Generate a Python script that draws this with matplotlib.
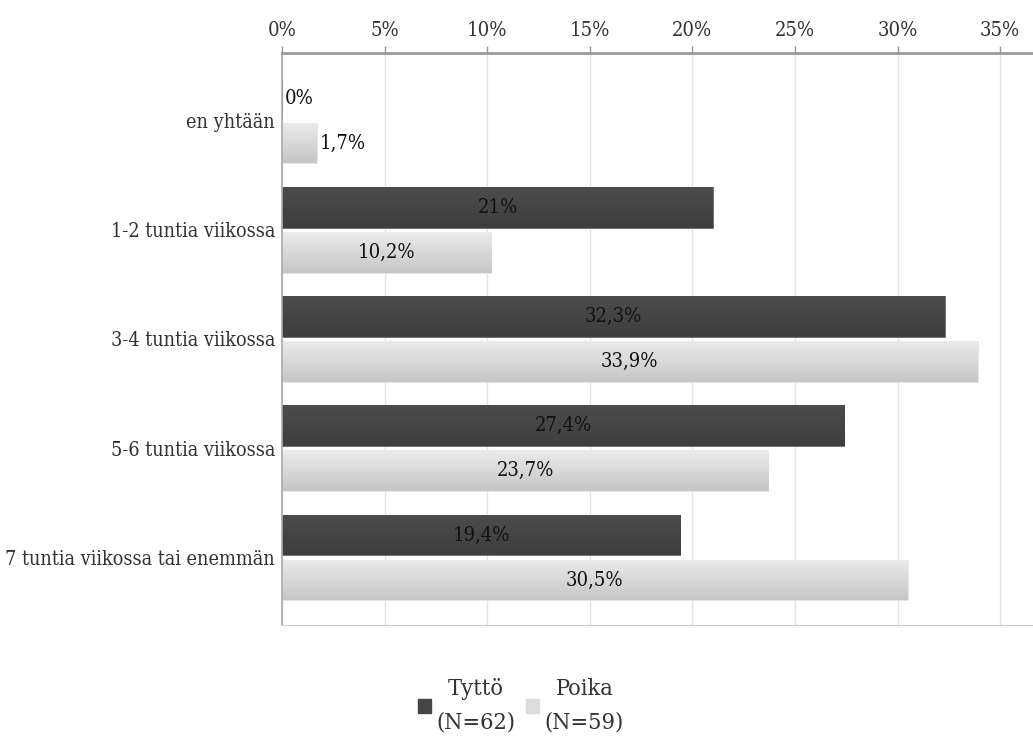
import matplotlib
matplotlib.use("Agg")
import matplotlib.pyplot as plt
import numpy as np
from matplotlib.patches import Patch

categories = ["en yhtään", "1-2 tuntia viikossa", "3-4 tuntia viikossa",
              "5-6 tuntia viikossa", "7 tuntia viikossa tai enemmän"]
tytto = [0, 21, 32.3, 27.4, 19.4]
poika = [1.7, 10.2, 33.9, 23.7, 30.5]
series_labels = ["Tyttö\n(N=62)", "Poika\n(N=59)"]
xticks = [0, 5, 10, 15, 20, 25, 30, 35]

plt.rcParams['font.family'] = ['DejaVu Serif', 'Liberation Serif']
plt.rcParams['font.stretch'] = 'condensed'

fig = plt.figure(figsize=(10.33, 7.4), dpi=100)
ax = fig.add_axes([282/1033, 1-625/740, 1-282/1033, (625-53)/740])

y = np.arange(len(categories))
h = 0.375
off = 0.206

def grad_bars(bars, c_top, c_bot):
    cmap = matplotlib.colors.LinearSegmentedColormap.from_list("g", [c_top, c_bot])
    grad = np.linspace(0, 1, 64).reshape(-1, 1)
    for b in bars:
        x0, y0 = b.get_x(), b.get_y()
        w, hh = b.get_width(), b.get_height()
        if w <= 0:
            continue
        b.set_facecolor("none")
        im = ax.imshow(grad, cmap=cmap, aspect="auto",
                       extent=[x0, x0 + w, y0 + hh, y0], zorder=2,
                       interpolation="bilinear")
        im.set_clip_path(b)

b1 = ax.barh(y - off, tytto, height=h, color="#454545", edgecolor="#5a5a5a",
             linewidth=0.6, zorder=2)
b2 = ax.barh(y + off, poika, height=h, color="#d8d8d8", edgecolor="#e0e0e0",
             linewidth=0.6, zorder=2)
grad_bars(b1, "#4c4c4c", "#3e3e3e")
grad_bars(b2, "#ebebeb", "#c6c6c6")

ax.set_xlim(0, 36.6)
ax.set_ylim(len(categories) - 1 + 0.618, -0.618)

def fmt(v):
    return f"{v:g}".replace(".", ",") + "%"

VFS = 14.5
for bars, vals in ((b1, tytto), (b2, poika)):
    for b, v in zip(bars, vals):
        cy = b.get_y() + b.get_height() / 2
        if v < 4:
            ax.text(v + 0.15, cy, fmt(v), ha="left", va="center",
                    fontsize=VFS, color="#111111", zorder=4)
        else:
            ax.text(v / 2, cy, fmt(v), ha="center", va="center",
                    fontsize=VFS, color="#111111", zorder=4)

ax.set_yticks(y)
ax.set_yticklabels(categories, fontsize=14.2, color="#333333")
ax.tick_params(axis="y", length=0, pad=5)
ax.xaxis.tick_top()
ax.set_xticks(xticks)
ax.set_xticklabels([f"{t}%" for t in xticks], fontsize=14.5, color="#333333")
ax.tick_params(axis="x", direction="out", length=5, width=1, color="#999999", pad=4)

ax.grid(axis="x", color="#e3e3e3", linewidth=1, zorder=0)
ax.set_axisbelow(True)
ax.spines["right"].set_visible(False)
ax.spines["top"].set_color("#9a9a9a")
ax.spines["top"].set_linewidth(2)
ax.spines["left"].set_color("#aaaaaa")
ax.spines["bottom"].set_color("#cccccc")
ax.spines["left"].set_linewidth(1.2)

handles = [Patch(facecolor="#454545", edgecolor="#454545"),
           Patch(facecolor="#dcdcdc", edgecolor="#dcdcdc")]
leg = fig.legend(handles, series_labels, loc="center", ncol=2,
                 bbox_to_anchor=(521/1033, 1-706/740), frameon=False,
                 fontsize=16.8, handlelength=0.55, handleheight=0.55,
                 handletextpad=0.25, columnspacing=0.45)
for t in leg.get_texts():
    t.set_multialignment("center")
    t.set_color("#333333")
    t.set_linespacing(1.7)

fig.savefig("out.png", dpi=100)
